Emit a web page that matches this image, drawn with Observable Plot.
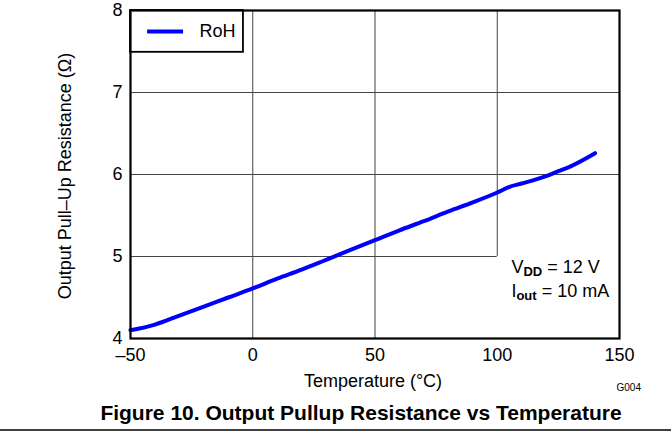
<!DOCTYPE html>
<html><head><meta charset="utf-8">
<script src="https://cdn.jsdelivr.net/npm/d3@7"></script>
<script src="https://cdn.jsdelivr.net/npm/@observablehq/plot@0.6"></script>
<style>
body{margin:0;background:#fff;font-family:"Liberation Sans",Arial,sans-serif}
#chart{position:relative;width:671px;height:439px}
</style>
</head><body><div id="chart"></div>
<script>
const temperature = [-50,-40,-30,-20,-10,0,10,20,30,40,50,60,70,80,90,100,105,110,120,125,130,140];
const resistance  = [4.10,4.17,4.28,4.39,4.50,4.61,4.73,4.84,4.96,5.08,5.20,5.32,5.43,5.55,5.66,5.78,5.85,5.89,5.98,6.04,6.10,6.26];
const xTicks = [-50,0,50,100,150];
const yTicks = [4,5,6,7,8];
const xGrid = [0,50,100];
const yGrid = [5,6,7];
const seriesName = "RoH";
const title = "Figure 10. Output Pullup Resistance vs Temperature";
const xLabel = "Temperature (°C)";
const yLabel = "Output Pull\u2013Up Resistance (\u03A9)";
const code = "G004";

const data = temperature.map((t,i)=>({t, r: resistance[i]}));
const fmt = d => d < 0 ? "\u2013" + Math.abs(d) : String(d);
const FONT = '"Liberation Sans", Arial, sans-serif';

const plot = Plot.plot({
  width: 671, height: 439,
  marginLeft: 130, marginRight: 52, marginTop: 10, marginBottom: 101,
  style: {fontFamily: FONT, fontSize: "18px", background: "#fff", color: "#000"},
  x: {domain: [-50,150]},
  y: {domain: [4,8]},
  marks: [
    // grid lines, clipped by the note area in the lower right corner
    Plot.ruleX(xGrid, {y1: d => d === 100 ? 5 : 4, y2: 8, stroke: "#444", strokeWidth: 1}),
    Plot.ruleY(yGrid, {x1: -50, x2: d => d === 5 ? 100 : 150, stroke: "#444", strokeWidth: 1}),
    Plot.line(data, {x: "t", y: "r", stroke: "#0000ff", strokeWidth: 4, curve: "monotone-x"}),
    Plot.rect([seriesName], {x1: -50, x2: -3.8, y1: 7.49, y2: 8, fill: "#fff", stroke: "#000", strokeWidth: 1.8}),
    Plot.ruleY([seriesName], {y: 7.744, x1: -43, x2: -28.3, stroke: "#0000ff", strokeWidth: 4}),
    Plot.text([seriesName], {x: -21.8, y: 7.744, text: d => d, textAnchor: "start", fontSize: 18}),
    Plot.frame({stroke: "#000", strokeWidth: 2.2}),
    Plot.axisX(xTicks, {tickSize: 0, tickPadding: 10, tickFormat: fmt, fontSize: 18, label: null}),
    Plot.axisY(yTicks, {tickSize: 0, tickPadding: 8, tickFormat: d => String(d), fontSize: 18, label: null})
  ]
});
document.getElementById("chart").appendChild(plot);

const svg = d3.select(plot);
const sx = plot.scale("x"), sy = plot.scale("y");
const g = svg.append("g").attr("font-family", FONT).attr("fill", "#000");

// axis labels
g.append("text").attr("x", 373).attr("y", 387).attr("font-size", 18).attr("text-anchor", "middle").text(xLabel);
g.append("text").attr("transform", "translate(71,176) rotate(-90)").attr("font-size", 18).attr("text-anchor", "middle").text(yLabel);

// conditions note
const ann = g.append("text").attr("font-size", 18).attr("text-anchor", "start");
const x0 = sx.apply(106);
const l1 = ann.append("tspan").attr("x", x0).attr("y", 273);
l1.append("tspan").text("V");
l1.append("tspan").attr("font-weight","bold").attr("font-size",13).attr("dy",3).text("DD");
l1.append("tspan").attr("dy",-3).text(" = 12 V");
const l2 = ann.append("tspan").attr("x", x0).attr("y", 297);
l2.append("tspan").text("I");
l2.append("tspan").attr("font-weight","bold").attr("font-size",13).attr("dy",3).text("out");
l2.append("tspan").attr("dy",-3).text(" = 10 mA");

g.append("text").attr("x", 641).attr("y", 391).attr("font-size", 10).attr("text-anchor","end").text(code);
g.append("text").attr("x", 361).attr("y", 420).attr("font-size", 21).attr("font-weight","bold").attr("text-anchor","middle").text(title);
svg.append("line").attr("x1",0).attr("x2",671).attr("y1",430).attr("y2",430).attr("stroke","#000").attr("stroke-width",1.6);
</script></body></html>
